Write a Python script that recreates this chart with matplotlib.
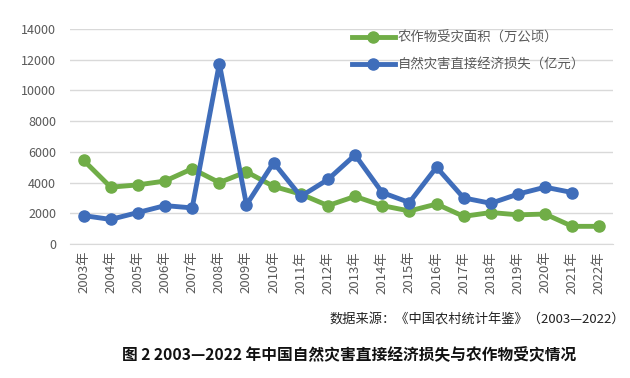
import matplotlib
matplotlib.use("Agg")
import matplotlib.pyplot as plt
import numpy as np

plt.rcParams["font.family"] = ["Noto Sans CJK SC", "DejaVu Sans"]

years = [f"{y}年" for y in range(2003, 2023)]
crop_area = [5450, 3700, 3850, 4100, 4900, 4000, 4700, 3750, 3250, 2500,
             3100, 2500, 2150, 2600, 1800, 2050, 1900, 1950, 1150, 1150]
econ_loss = [1850, 1600, 2050, 2500, 2350, 11750, 2550, 5300, 3100, 4200,
             5800, 3350, 2700, 5000, 3000, 2650, 3250, 3700, 3350, np.nan]

GREEN = "#70AD47"
BLUE = "#3F6DBA"
GRAY = "#595959"

fig = plt.figure(figsize=(6.3, 3.78), dpi=100)
ax = fig.add_axes([70 / 630, 1 - 244 / 378, 543 / 630, 215 / 378])

x = np.arange(len(years))
ax.plot(x, crop_area, color=GREEN, lw=3.5, marker="o", ms=8, label="农作物受灾面积（万公顷）", zorder=3)
ax.plot(x, econ_loss, color=BLUE, lw=3.5, marker="o", ms=8, label="自然灾害直接经济损失（亿元）", zorder=4)

ax.set_xlim(-0.5, len(years) - 0.5)
ax.set_ylim(0, 14000)
ax.set_yticks(np.arange(0, 14001, 2000))
ax.set_xticks(x)
ax.set_xticklabels(years, rotation=90, fontsize=9.5, color=GRAY)
ax.tick_params(axis="y", labelsize=9, colors=GRAY, length=0, pad=10)
ax.tick_params(axis="x", length=0, pad=5)
ax.grid(axis="y", color="#D9D9D9", lw=1)
ax.set_axisbelow(True)
for s in ["top", "right", "left"]:
    ax.spines[s].set_visible(False)
ax.spines["bottom"].set_color("#D9D9D9")

ax.legend(loc="upper left", bbox_to_anchor=(352 / 630, 1 - 31 / 378),
          bbox_transform=fig.transFigure, frameon=False, fontsize=9.6,
          handlelength=3.2, handletextpad=0.25, labelspacing=0.95,
          labelcolor=GRAY, borderaxespad=0, borderpad=0)

fig.text(329 / 630, 1 - 320 / 378, "数据来源：《中国农村统计年鉴》（2003—2022）",
         ha="left", va="center", fontsize=9.5, color="#222222")
fig.text(122 / 630, 1 - 354 / 378, "图 2 2003—2022 年中国自然灾害直接经济损失与农作物受灾情况",
         ha="left", va="center", fontsize=11.3, fontweight="bold", color="#111111")

fig.savefig("out.png", dpi=100)
